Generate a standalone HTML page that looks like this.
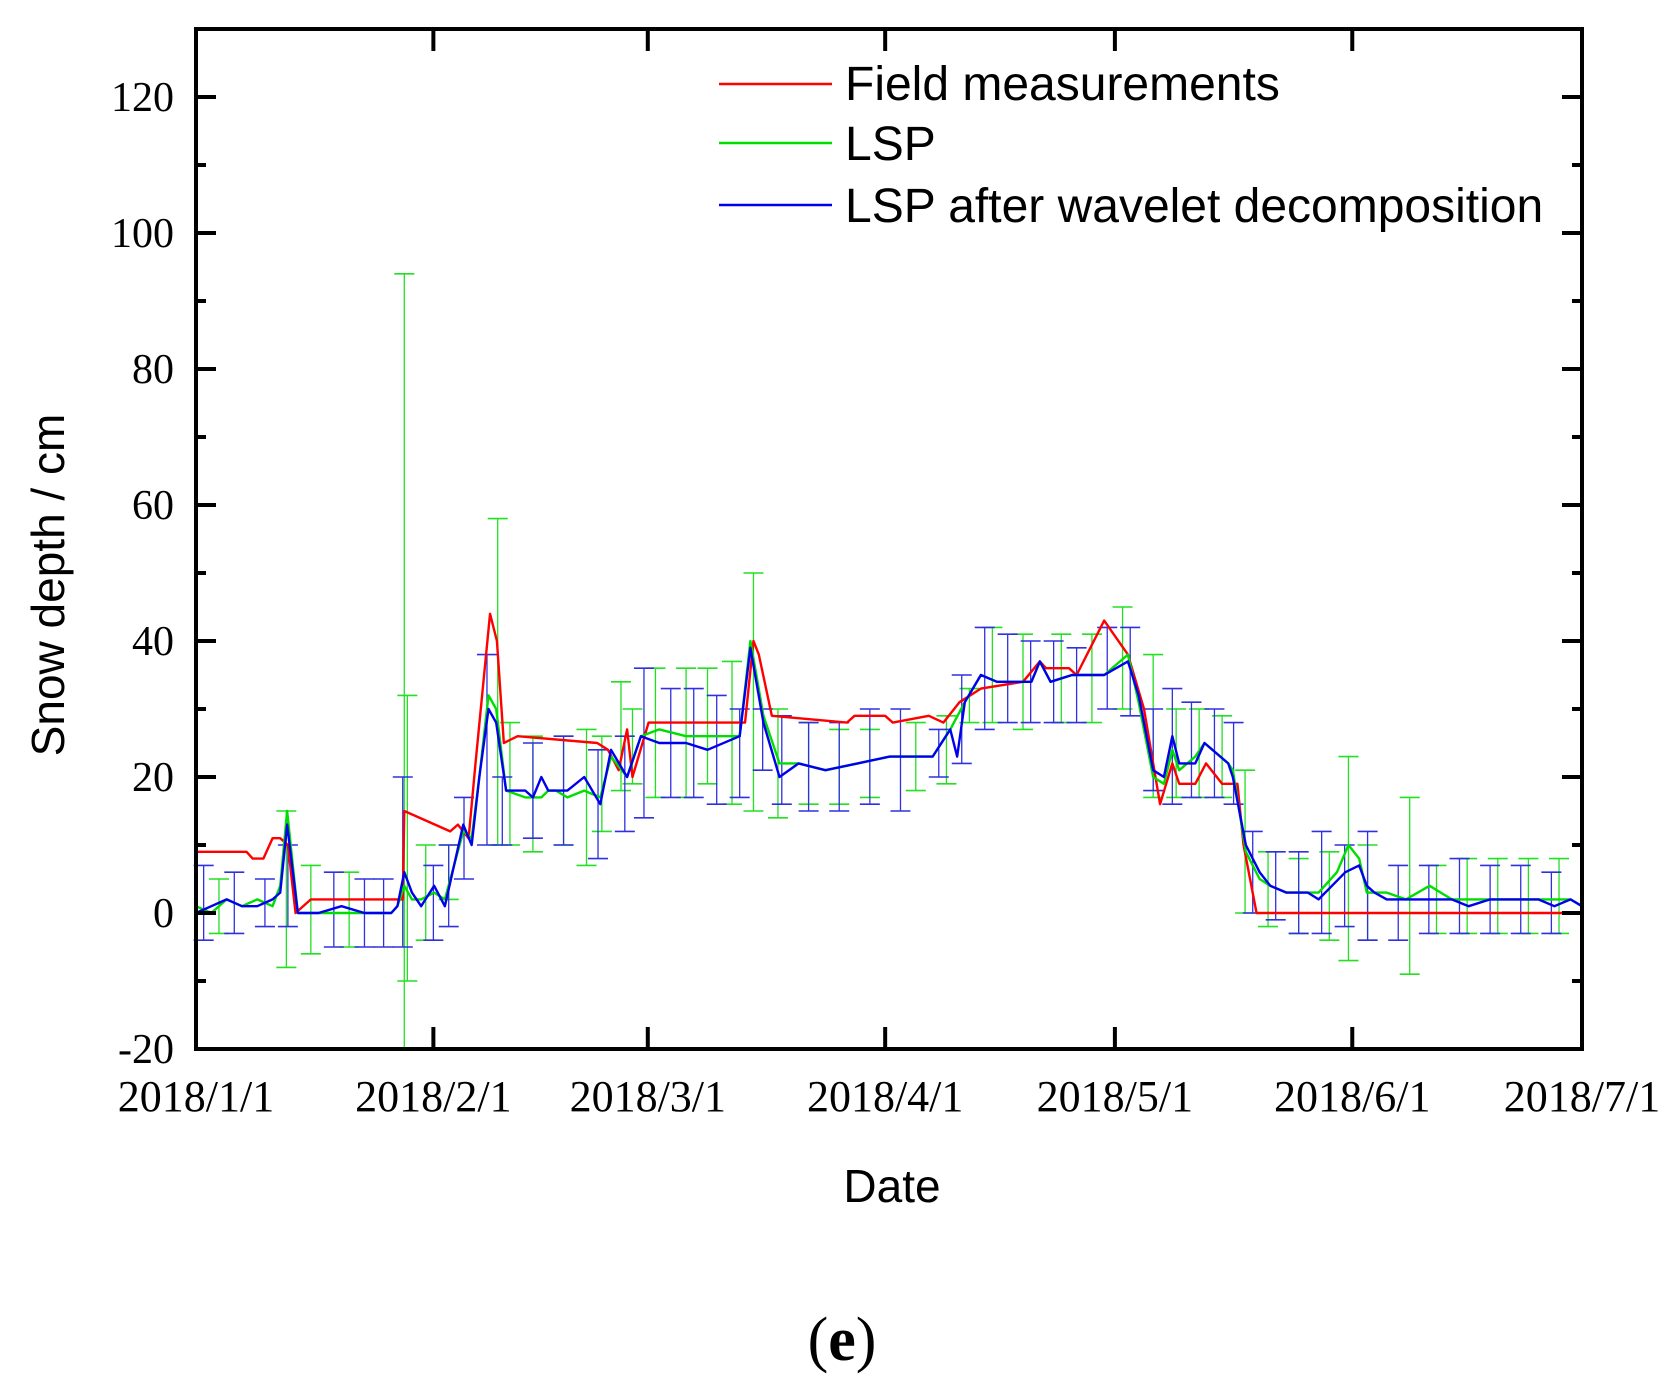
<!DOCTYPE html>
<html><head><meta charset="utf-8"><title>Snow depth chart</title>
<style>
html,body{margin:0;padding:0;background:#fff;}
svg{display:block;}
</style></head>
<body>
<svg id="chart" width="1673" height="1389" viewBox="0 0 1673 1389" xmlns="http://www.w3.org/2000/svg">
<g id="marks"></g>
<g id="axes"></g>
<g>
 <line x1="719" y1="84" x2="832" y2="84" stroke="#ff0000" stroke-width="2.5"/>
 <text x="845" y="100" font-family="Liberation Sans, sans-serif" font-size="48">Field measurements</text>
 <line x1="719" y1="143" x2="832" y2="143" stroke="#00dd00" stroke-width="2.5"/>
 <text x="845" y="160" font-family="Liberation Sans, sans-serif" font-size="48">LSP</text>
 <line x1="719" y1="205" x2="832" y2="205" stroke="#0000ee" stroke-width="2.5"/>
 <text x="845" y="222" font-family="Liberation Sans, sans-serif" font-size="48">LSP after wavelet decomposition</text>
</g>
<text x="892" y="1202" text-anchor="middle" font-family="Liberation Sans, sans-serif" font-size="46">Date</text>
<text transform="translate(64,585) rotate(-90)" text-anchor="middle" font-family="Liberation Sans, sans-serif" font-size="46">Snow depth / cm</text>
<text x="842" y="1360" text-anchor="middle" font-family="Liberation Serif, serif" font-size="62"><tspan>(</tspan><tspan font-weight="bold">e</tspan><tspan>)</tspan></text>
</svg>
<script>
const monthLabels = ["2018/1/1","2018/2/1","2018/3/1","2018/4/1","2018/5/1","2018/6/1","2018/7/1"];
const monthDays = [0,31,59,90,120,151,181];
const yTicks = [-20,0,20,40,60,80,100,120];

const fieldDays = [0,6.6,7.4,8.8,10,11,12,13,15,27,27.2,33.2,34.2,35.6,36.5,38.4,39.3,40.2,42,52.4,53.8,55.2,56.3,57,59.1,71.7,72.8,73.5,75.2,85,86,90,91,95.7,97.6,99.7,102.5,108,110.2,111,114,115,118.6,121.7,123.8,125.9,127.5,128.4,130.5,131.9,134,136,136.8,138.5,181];
const fieldVals = [9,9,8,8,11,11,10,0,2,2,15,12,13,11,22,44,40,25,26,25,24,21,27,20,28,28,40,38,29,28,29,29,28,29,28,31,33,34,37,36,36,35,43,38,30,16,22,19,19,22,19,19,10,0,0];

const waveDays = [0,2,4,6,8,10,11,11.9,13.3,16,19,22,25.5,26.3,27.2,28.2,29.4,31.1,32.5,34.9,36,37,38.2,39.2,40.5,43,44,45.1,46,48.5,50.7,52.8,54.2,56.3,58.1,60.5,64,66.8,71,72.4,74.1,76.2,78.7,82.2,86.4,90.6,96.2,98.5,99.4,100.4,102.5,104.6,109.1,110.2,111.6,114.4,118.6,121.7,123.1,125,126.4,127.5,128.4,130.5,131.7,134.8,135.4,137.1,138.9,140.3,142.4,145.2,146.6,150.1,151.9,152.9,153.9,155.5,161.1,164,166.2,169,175.3,177.4,179.5,181];
const waveVals = [0,1,2,1,1,2,3,13,0,0,1,0,0,1,6,3,1,4,1,13,10,20,30,28,18,18,17,20,18,18,20,16,24,20,26,25,25,24,26,39,28,20,22,21,22,23,23,27,23,31,35,34,34,37,34,35,35,37,32,21,20,26,22,22,25,22,20,10,6,4,3,3,2,6,7,4,3,2,2,2,1,2,2,1,2,1];

const lspDays = [0,2,4,6,8,10,11,11.9,13.3,16,19,22,25.5,26.3,27.2,28.2,29.4,31.1,32.5,34.9,36,37,38.2,39.2,40.5,43,45.1,46,47,48.5,50.7,52.8,54.2,56.3,58.1,60.5,64,66.8,71,72.4,74.1,76.2,78.7,82.2,86.4,90.6,96.2,98.5,100.4,102.5,104.6,109.1,110.2,111.6,114.4,118.6,121.7,123.1,125,126.4,127.5,128.4,130.5,131.7,134.8,135.4,137.1,138.9,140.3,142.4,145.2,146.6,149,150.5,151.9,152.9,155.5,158,161.1,164,166.2,169,175.3,177.4,179.5,181];
const lspVals = [1,0,2,1,2,1,4,15,0,0,0,0,0,1,4,2,2,3,2,12,11,20,32,30,18,17,17,18,18,17,18,17,23,20,26,27,26,26,26,40,29,22,22,21,22,23,23,27,31,35,34,34,37,34,35,35,38,31,20,19,24,21,23,25,22,21,9,5,4,3,3,3,6,10,8,3,3,2,4,2,2,2,2,2,2,1];

const lspErrDays = [3,11.8,15,20,27.2,27.6,30,33,39.4,41,44,48,51,53,55.5,57,60,64,66.8,70,72.8,76,80,84,88,94,98,101,104,108,113,117,121,125,128,131,134,137,140,144,148,150.5,153,158.5,162,166,170,174,178];
const lspErrLo = [-3,-8,-6,-5,-20,-10,-4,2,10,10,9,10,7,12,18,19,17,17,19,16,15,14,16,16,17,18,19,28,28,27,28,28,30,17,17,17,17,0,-2,-3,-4,-7,-4,-9,-3,-3,-3,-3,-3];
const lspErrHi = [5,15,7,6,94,32,10,10,58,28,26,26,27,26,34,30,36,36,36,37,50,30,28,27,27,28,29,33,42,41,41,41,45,38,30,30,29,21,9,8,9,23,10,17,7,8,8,8,8];

const waveErrDays = [1,5,9,12,18,22,24.5,27,31,33,35,38,40,44,48,52.5,56,58.5,62,65,68,71,74,76.5,80,84,88,92,97,100,103,106,109,112,115,119,122,125,127.5,130,133,135.5,138,141,144,147,150,153,157,161,165,169,173,177];
const waveErrLo = [-4,-3,-2,-2,-5,-5,-5,-5,-4,-2,5,10,10,11,10,8,12,14,17,17,16,17,21,16,15,15,16,15,20,22,27,28,28,28,28,30,29,18,16,17,17,16,0,-1,-3,-3,-2,-4,-4,-3,-3,-3,-3,-3];
const waveErrHi = [7,6,5,10,6,5,5,20,7,10,17,38,20,25,26,24,26,36,33,33,32,30,30,29,28,28,30,30,27,35,42,41,40,40,39,42,42,30,33,31,30,28,12,9,9,12,10,12,7,7,8,7,7,6];

const L=196,R=1582,T=29,B=1049;
const X = d => L + d*(R-L)/181;
const Y = v => 913 - v*6.8;
const NS='http://www.w3.org/2000/svg';
const marks=document.getElementById('marks');
const axes=document.getElementById('axes');
function mk(tag,parent,attrs){const e=document.createElementNS(NS,tag);for(const k in attrs)e.setAttribute(k,attrs[k]);parent.appendChild(e);return e;}

function errBars(days,lo,hi,color,name){
  const g=mk('g',marks,{});
  
  
  for(let i=0;i<days.length;i++){
    const x=X(days[i]);
    const l=mk('line',g,{x1:x,x2:x,y1:Y(lo[i]),y2:Y(hi[i]),stroke:color,'stroke-width':1.3});
    
    
    mk('line',g,{x1:x-10,x2:x+10,y1:Y(lo[i]),y2:Y(lo[i]),stroke:color,'stroke-width':1.6});
    mk('line',g,{x1:x-10,x2:x+10,y1:Y(hi[i]),y2:Y(hi[i]),stroke:color,'stroke-width':1.6});
  }
}
function series(days,vals,color,name){
  const p=mk('polyline',marks,{points:days.map((d,i)=>X(d)+','+Y(vals[i])).join(' '),fill:'none',stroke:color,'stroke-width':2.4,'stroke-linejoin':'round'});
  
  
}
errBars(lspErrDays,lspErrLo,lspErrHi,'#22e022','lsp-error-bars');
errBars(waveErrDays,waveErrLo,waveErrHi,'#3030e0','wavelet-error-bars');
series(fieldDays,fieldVals,'#ff0000','field-measurements-line');
series(lspDays,lspVals,'#00dd00','lsp-line');
series(waveDays,waveVals,'#0000ee','wavelet-line');

const fr=mk('rect',axes,{x:L,y:T,width:R-L,height:B-T,fill:'none',stroke:'#000','stroke-width':4});


for(let v=-20;v<=130;v+=10){
  const y=Y(v); if(y<T+2||y>B-2) continue;
  const len = v%20===0?20:10;
  mk('line',axes,{x1:L,x2:L+len,y1:y,y2:y,stroke:'#000','stroke-width':4});
  mk('line',axes,{x1:R,x2:R-len,y1:y,y2:y,stroke:'#000','stroke-width':4});
}
yTicks.forEach(v=>{
  const t=mk('text',axes,{x:174,y:Y(v)+14,'text-anchor':'end','font-family':'Liberation Serif, serif','font-size':42});
  t.textContent=v;
  
  
});
monthDays.forEach((d,i)=>{
  const x=X(d);
  if(i>0&&i<monthDays.length-1){
    mk('line',axes,{x1:x,x2:x,y1:B,y2:B-22,stroke:'#000','stroke-width':4});
    mk('line',axes,{x1:x,x2:x,y1:T,y2:T+22,stroke:'#000','stroke-width':4});
  }
  const t=mk('text',axes,{x:x,y:1111,'text-anchor':'middle','font-family':'Liberation Serif, serif','font-size':44});
  t.textContent=monthLabels[i];
  
  
});
</script>
</body></html>
